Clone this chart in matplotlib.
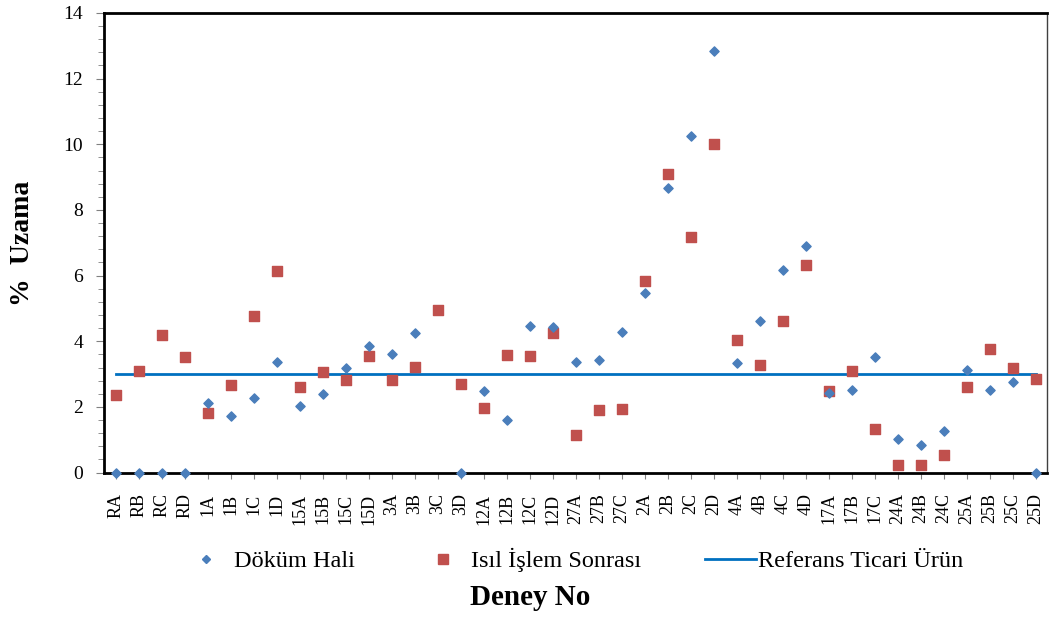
import matplotlib.pyplot as plt
from matplotlib.ticker import MultipleLocator
from matplotlib.lines import Line2D

# deney numaraları
kategoriler = ['RA', 'RB', 'RC', 'RD', '1A', '1B', '1C', '1D', '15A', '15B', '15C', '15D',
               '3A', '3B', '3C', '3D', '12A', '12B', '12C', '12D', '27A', '27B', '27C',
               '2A', '2B', '2C', '2D', '4A', '4B', '4C', '4D', '17A', '17B', '17C',
               '24A', '24B', '24C', '25A', '25B', '25C', '25D']

# Döküm Hali (3C değeri yok)
dokum = [0, 0, 0, 0, 2.12, 1.72, 2.28, 3.37, 2.03, 2.39, 3.19, 3.86,
         3.60, 4.25, None, 0, 2.50, 1.59, 4.47, 4.42, 3.36, 3.42, 4.28,
         5.47, 8.68, 10.26, 12.83, 3.35, 4.61, 6.18, 6.91, 2.44, 2.53, 3.51,
         1.03, 0.83, 1.27, 3.13, 2.53, 2.76, 0]

# Isıl İşlem Sonrası
isil = [2.36, 3.09, 4.19, 3.51, 1.81, 2.67, 4.77, 6.13, 2.60, 3.06, 2.82, 3.55,
        2.82, 3.23, 4.96, 2.71, 1.98, 3.59, 3.54, 4.26, 1.16, 1.92, 1.95,
        5.84, 9.10, 7.17, 10.0, 4.05, 3.27, 4.63, 6.31, 2.50, 3.10, 1.33,
        0.24, 0.23, 0.53, 2.61, 3.77, 3.18, 2.85]

referans = 3.0

plt.rcParams['font.family'] = ['Liberation Serif', 'DejaVu Serif']

fig = plt.figure(figsize=(10.49, 6.17), dpi=100)
ax = fig.add_axes([0.099, 0.234, 0.899, 0.745])

x = list(range(len(kategoriler)))
xd = [i for i, v in zip(x, dokum) if v is not None]
yd = [v for v in dokum if v is not None]

ax.plot([x[0], x[-1]], [referans, referans], color='#0070c0', lw=2, zorder=2,
        label='Referans Ticari Ürün')
ax.scatter(x, isil, marker='s', s=42, color='#c0504d', zorder=3,
           label='Isıl İşlem Sonrası')
ax.scatter(xd, yd, marker='D', s=22, color='#4a7ebb', zorder=4,
           label='Döküm Hali', clip_on=False)

ax.set_xlim(-0.52, 40.48)
ax.set_ylim(0, 14)
ax.yaxis.set_major_locator(MultipleLocator(2))
ax.yaxis.set_minor_locator(MultipleLocator(0.4))
ax.set_xticks(x)
ax.set_xticklabels(kategoriler, rotation=90, fontsize=13)
ax.tick_params(axis='y', labelsize=14, direction='out', length=6, color='#808080', pad=9)
ax.tick_params(axis='y', which='minor', direction='out', length=4, color='#808080')
ax.tick_params(axis='x', direction='out', length=4, color='#808080', pad=11)

for sp in ax.spines.values():
    sp.set_linewidth(2)
    sp.set_color('black')
ax.spines['right'].set_linewidth(1)
ax.spines['right'].set_color('#404040')

fig.text(0.021, 0.606, '%  Uzama', rotation=90, fontsize=20, fontweight='bold',
         ha='center', va='center')
fig.text(0.505, 0.031, 'Deney No', fontsize=21, fontweight='bold', ha='center', va='center')

handles = [
    Line2D([], [], marker='D', ls='none', color='#4a7ebb', markersize=4.5),
    Line2D([], [], marker='s', ls='none', color='#c0504d', markersize=6.5),
    Line2D([], [], color='#0070c0', lw=2),
]
labels = ['Döküm Hali', 'Isıl İşlem Sonrası', 'Referans Ticari Ürün']
fig.legend(handles, labels, loc='center', bbox_to_anchor=(0.545, 0.092), ncol=3,
           frameon=False, fontsize=17.5, columnspacing=2.6, handlelength=2.1,
           handletextpad=0.1)

fig.savefig('out.png', dpi=100)
